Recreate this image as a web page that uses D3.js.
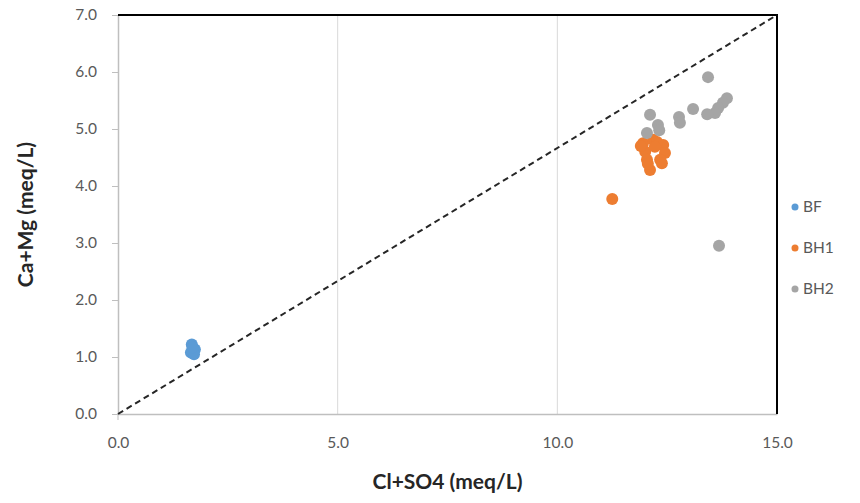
<!DOCTYPE html>
<html>
<head>
<meta charset="utf-8">
<script src="https://cdn.jsdelivr.net/npm/d3@7"></script>
<style>
  body { margin: 0; background: #fff; }
  text { font-family: Lato, "Noto Sans", sans-serif; }
</style>
</head>
<body>
<div id="chart"></div>
<script>
// Data
const seriesNames = ['BF', 'BH1', 'BH2']
const seriesColors = ['#5B9BD5', '#ED7D31', '#A5A5A5']

const bfX = [1.68, 1.75, 1.66, 1.73, 1.70]
const bfY = [1.22, 1.13, 1.08, 1.05, 1.17]

const bh1X = [11.25, 11.95, 12.18, 12.41, 12.45, 12.0, 12.04, 12.34, 12.11, 12.27, 12.06, 12.38, 11.9, 12.22]
const bh1Y = [3.77, 4.75, 4.81, 4.72, 4.58, 4.60, 4.46, 4.46, 4.28, 4.77, 4.39, 4.40, 4.70, 4.69]

const bh2X = [13.43, 13.86, 13.77, 13.66, 13.59, 13.41, 13.09, 12.77, 12.79, 12.11, 12.29, 12.32, 12.04, 13.68]
const bh2Y = [5.91, 5.54, 5.46, 5.37, 5.28, 5.26, 5.35, 5.21, 5.11, 5.25, 5.07, 4.98, 4.93, 2.95]

const xTicks = [0, 5, 10, 15]
const yTicks = [0, 1, 2, 3, 4, 5, 6, 7]
const refLine = [[0, 0], [15, 7]]

const series = [
  { name: seriesNames[0], color: seriesColors[0], points: bfX.map((x, i) => [x, bfY[i]]) },
  { name: seriesNames[1], color: seriesColors[1], points: bh1X.map((x, i) => [x, bh1Y[i]]) },
  { name: seriesNames[2], color: seriesColors[2], points: bh2X.map((x, i) => [x, bh2Y[i]]) },
]

// Dimensions
const dimensions = {
  width: 860,
  height: 503,
  margins: { top: 15, right: 83, bottom: 89, left: 118 },
}
dimensions.ctrWidth = dimensions.width - dimensions.margins.left - dimensions.margins.right
dimensions.ctrHeight = dimensions.height - dimensions.margins.top - dimensions.margins.bottom

const svg = d3.select('#chart')
  .append('svg')
  .attr('width', dimensions.width)
  .attr('height', dimensions.height)

const ctr = svg.append('g')
  .attr('transform', `translate(${dimensions.margins.left}, ${dimensions.margins.top})`)

// Scales
const xScale = d3.scaleLinear().domain([0, 15]).range([0, dimensions.ctrWidth])
const yScale = d3.scaleLinear().domain([0, 7]).range([dimensions.ctrHeight, 0])

// Gridlines (vertical only)
ctr.append('g')
  .selectAll('line')
  .data(xTicks.slice(1, -1))
  .join('line')
  .attr('x1', d => xScale(d))
  .attr('x2', d => xScale(d))
  .attr('y1', 0)
  .attr('y2', dimensions.ctrHeight)
  .attr('stroke', '#D9D9D9')
  .attr('stroke-width', 1)

// Axes
const xAxis = d3.axisBottom(xScale)
  .tickValues(xTicks)
  .tickFormat(d3.format('.1f'))
  .tickSize(0)
  .tickPadding(23)
const xAxisGroup = ctr.append('g')
  .attr('transform', `translate(0, ${dimensions.ctrHeight})`)
  .call(xAxis)
xAxisGroup.select('.domain').attr('stroke', '#BFBFBF').attr('stroke-width', 1.5)
xAxisGroup.selectAll('text').attr('fill', '#595959').style('font-size', '15.5px')

const yAxis = d3.axisLeft(yScale)
  .tickValues(yTicks)
  .tickFormat(d3.format('.1f'))
  .tickSize(6)
  .tickSizeOuter(0)
  .tickPadding(15)
const yAxisGroup = ctr.append('g').call(yAxis)
yAxisGroup.select('.domain').attr('stroke', '#BFBFBF').attr('stroke-width', 1.5)
yAxisGroup.selectAll('.tick line').attr('stroke', '#BFBFBF')
yAxisGroup.selectAll('text').attr('fill', '#595959').style('font-size', '15.5px')

// small tick below origin
ctr.append('line')
  .attr('x1', xScale(0)).attr('x2', xScale(0))
  .attr('y1', dimensions.ctrHeight).attr('y2', dimensions.ctrHeight + 6)
  .attr('stroke', '#BFBFBF')

// Plot border top / right
ctr.append('path')
  .attr('d', `M${xScale(0)},${yScale(7)}H${xScale(15)}V${yScale(0)}`)
  .attr('fill', 'none')
  .attr('stroke', '#000')
  .attr('stroke-width', 2)

// 1:1 line
const lineGenerator = d3.line()
  .x(d => xScale(d[0]))
  .y(d => yScale(d[1]))
ctr.append('path')
  .datum(refLine)
  .attr('d', lineGenerator)
  .attr('fill', 'none')
  .attr('stroke', '#262626')
  .attr('stroke-width', 2)
  .attr('stroke-dasharray', '6,4')

// Points
series.forEach(s => {
  ctr.append('g')
    .selectAll('circle')
    .data(s.points)
    .join('circle')
    .attr('cx', d => xScale(d[0]))
    .attr('cy', d => yScale(d[1]))
    .attr('r', 6)
    .attr('fill', s.color)
})

// Legend
const legend = svg.append('g')
  .attr('transform', 'translate(795, 207)')
const legendItems = legend.selectAll('g')
  .data(series)
  .join('g')
  .attr('transform', (d, i) => `translate(0, ${i * 41})`)
legendItems.append('circle')
  .attr('r', 3.5)
  .attr('fill', d => d.color)
legendItems.append('text')
  .attr('x', 8)
  .attr('dy', '0.35em')
  .attr('fill', '#595959')
  .style('font-size', '15.5px')
  .text(d => d.name)

// Axis titles
svg.append('text')
  .attr('x', dimensions.margins.left + dimensions.ctrWidth / 2)
  .attr('y', 489)
  .attr('text-anchor', 'middle')
  .attr('fill', '#262626')
  .style('font-size', '21px')
  .style('font-weight', 'bold')
  .text('Cl+SO4 (meq/L)')

svg.append('text')
  .attr('transform', `translate(33, ${dimensions.margins.top + dimensions.ctrHeight / 2}) rotate(-90)`)
  .attr('text-anchor', 'middle')
  .attr('fill', '#262626')
  .style('font-size', '21px')
  .style('font-weight', 'bold')
  .text('Ca+Mg (meq/L)')
</script>
</body>
</html>
